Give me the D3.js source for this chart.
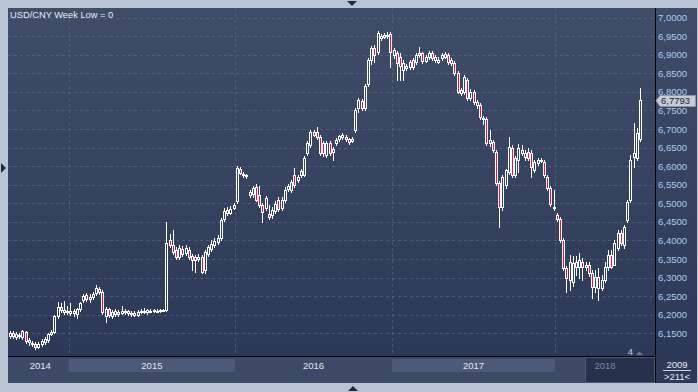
<!DOCTYPE html>
<html>
<head>
<meta charset="utf-8">
<script src="https://cdn.jsdelivr.net/npm/d3@7"></script>
<style>
  html, body { margin: 0; padding: 0; background: #b9c5d5; }
  svg { display: block; font-family: "Liberation Sans", Arial, sans-serif; }
</style>
</head>
<body>
<svg id="chart" width="698" height="392"></svg>
<script>
// weekly USD/CNY candles
const years = ["2014", "2015", "2016", "2017", "2018"]
const yearStart = [0, 19, 71, 120, 171]   // candle index where each year begins
const yTicks = [6.15, 6.2, 6.25, 6.3, 6.35, 6.4, 6.45, 6.5, 6.55, 6.6, 6.65, 6.7, 6.75, 6.8, 6.85, 6.9, 6.95, 7.0]
const lastPrice = 6.7793

const opens = [
  6.143, 6.151, 6.140, 6.145, 6.140, 6.153, 6.127, 6.124, 6.121, 6.113,
  6.121, 6.127, 6.132, 6.148, 6.153, 6.197, 6.221, 6.207, 6.207, 6.210,
  6.205, 6.202, 6.215, 6.240, 6.253, 6.242, 6.248, 6.258, 6.269, 6.261,
  6.197, 6.215, 6.197, 6.210, 6.202, 6.205, 6.207, 6.210, 6.202, 6.205,
  6.199, 6.207, 6.209, 6.207, 6.210, 6.210, 6.210, 6.211, 6.212, 6.213,
  6.401, 6.388, 6.374, 6.355, 6.377, 6.366, 6.374, 6.358, 6.347, 6.350,
  6.355, 6.320, 6.363, 6.377, 6.388, 6.396, 6.406, 6.458, 6.482, 6.474,
  6.487, 6.506, 6.592, 6.579, 6.576, 6.522, 6.525, 6.544, 6.522, 6.495,
  6.487, 6.471, 6.468, 6.479, 6.509, 6.487, 6.509, 6.538, 6.536, 6.576,
  6.563, 6.576, 6.576, 6.635, 6.657, 6.684, 6.692, 6.678, 6.662, 6.630,
  6.662, 6.638, 6.662, 6.673, 6.678, 6.678, 6.673, 6.668, 6.697, 6.756,
  6.775, 6.756, 6.821, 6.886, 6.918, 6.907, 6.945, 6.948, 6.950, 6.956,
  6.899, 6.904, 6.894, 6.859, 6.864, 6.867, 6.886, 6.880, 6.899, 6.904,
  6.883, 6.894, 6.904, 6.886, 6.880, 6.891, 6.894, 6.899, 6.886, 6.878,
  6.851, 6.797, 6.800, 6.832, 6.783, 6.800, 6.765, 6.765, 6.727, 6.727,
  6.662, 6.665, 6.638, 6.554, 6.490, 6.549, 6.584, 6.649, 6.576, 6.616,
  6.643, 6.625, 6.638, 6.635, 6.590, 6.608, 6.614, 6.611, 6.571, 6.541,
  6.487, 6.468, 6.458, 6.401, 6.326, 6.293, 6.288, 6.328, 6.328, 6.342,
  6.328, 6.334, 6.312, 6.275, 6.272, 6.272, 6.293, 6.328, 6.361, 6.334,
  6.380, 6.420, 6.388, 6.455, 6.509, 6.625, 6.622, 6.673
]
const highs = [
  6.156, 6.156, 6.153, 6.151, 6.159, 6.156, 6.137, 6.129, 6.127, 6.127,
  6.135, 6.140, 6.151, 6.159, 6.199, 6.234, 6.232, 6.237, 6.223, 6.232,
  6.215, 6.218, 6.234, 6.256, 6.258, 6.256, 6.261, 6.280, 6.275, 6.267,
  6.221, 6.218, 6.213, 6.215, 6.213, 6.223, 6.215, 6.213, 6.210, 6.210,
  6.213, 6.215, 6.218, 6.215, 6.215, 6.215, 6.215, 6.215, 6.215, 6.450,
  6.417, 6.428, 6.382, 6.388, 6.385, 6.388, 6.382, 6.363, 6.361, 6.363,
  6.361, 6.374, 6.388, 6.401, 6.406, 6.415, 6.460, 6.487, 6.490, 6.493,
  6.501, 6.600, 6.598, 6.584, 6.579, 6.536, 6.546, 6.552, 6.546, 6.501,
  6.520, 6.495, 6.490, 6.506, 6.517, 6.517, 6.544, 6.552, 6.563, 6.595,
  6.576, 6.592, 6.627, 6.668, 6.697, 6.697, 6.705, 6.684, 6.668, 6.668,
  6.668, 6.651, 6.676, 6.684, 6.689, 6.684, 6.676, 6.678, 6.756, 6.783,
  6.781, 6.821, 6.891, 6.923, 6.926, 6.964, 6.956, 6.958, 6.961, 6.961,
  6.918, 6.910, 6.904, 6.886, 6.875, 6.886, 6.891, 6.904, 6.921, 6.907,
  6.899, 6.910, 6.910, 6.899, 6.894, 6.904, 6.907, 6.904, 6.891, 6.883,
  6.856, 6.810, 6.845, 6.837, 6.807, 6.805, 6.778, 6.770, 6.735, 6.732,
  6.697, 6.670, 6.643, 6.560, 6.576, 6.592, 6.678, 6.657, 6.627, 6.660,
  6.657, 6.643, 6.649, 6.643, 6.616, 6.622, 6.622, 6.616, 6.576, 6.546,
  6.536, 6.474, 6.463, 6.406, 6.331, 6.361, 6.358, 6.358, 6.366, 6.353,
  6.342, 6.342, 6.320, 6.320, 6.326, 6.307, 6.342, 6.374, 6.374, 6.401,
  6.428, 6.428, 6.442, 6.509, 6.630, 6.716, 6.703, 6.810
]
const lows = [
  6.137, 6.137, 6.135, 6.137, 6.135, 6.124, 6.118, 6.116, 6.108, 6.110,
  6.116, 6.121, 6.127, 6.145, 6.151, 6.191, 6.207, 6.202, 6.202, 6.199,
  6.197, 6.191, 6.210, 6.234, 6.237, 6.234, 6.242, 6.253, 6.256, 6.202,
  6.180, 6.194, 6.191, 6.197, 6.197, 6.202, 6.202, 6.199, 6.197, 6.197,
  6.197, 6.205, 6.205, 6.202, 6.207, 6.207, 6.207, 6.207, 6.210, 6.210,
  6.382, 6.363, 6.350, 6.350, 6.358, 6.361, 6.350, 6.320, 6.315, 6.345,
  6.312, 6.312, 6.358, 6.371, 6.382, 6.390, 6.401, 6.452, 6.468, 6.471,
  6.485, 6.501, 6.579, 6.571, 6.568, 6.517, 6.517, 6.506, 6.490, 6.450,
  6.482, 6.458, 6.460, 6.474, 6.479, 6.482, 6.503, 6.533, 6.530, 6.544,
  6.557, 6.571, 6.573, 6.630, 6.651, 6.681, 6.673, 6.630, 6.627, 6.625,
  6.630, 6.616, 6.657, 6.668, 6.673, 6.668, 6.660, 6.665, 6.692, 6.746,
  6.751, 6.751, 6.816, 6.875, 6.880, 6.902, 6.939, 6.945, 6.945, 6.867,
  6.891, 6.832, 6.832, 6.832, 6.859, 6.861, 6.861, 6.875, 6.894, 6.878,
  6.880, 6.888, 6.886, 6.880, 6.878, 6.886, 6.891, 6.875, 6.872, 6.845,
  6.797, 6.791, 6.794, 6.778, 6.778, 6.767, 6.756, 6.727, 6.713, 6.657,
  6.654, 6.638, 6.549, 6.436, 6.482, 6.541, 6.579, 6.571, 6.571, 6.584,
  6.630, 6.616, 6.616, 6.571, 6.584, 6.603, 6.611, 6.571, 6.536, 6.493,
  6.482, 6.452, 6.396, 6.320, 6.261, 6.267, 6.277, 6.307, 6.299, 6.293,
  6.320, 6.304, 6.245, 6.261, 6.240, 6.267, 6.288, 6.320, 6.326, 6.353,
  6.374, 6.388, 6.380, 6.450, 6.503, 6.598, 6.616, 6.668
]
const closes = [
  6.151, 6.143, 6.148, 6.143, 6.156, 6.129, 6.132, 6.121, 6.113, 6.121,
  6.129, 6.135, 6.148, 6.153, 6.197, 6.221, 6.213, 6.213, 6.210, 6.205,
  6.210, 6.215, 6.232, 6.250, 6.242, 6.248, 6.256, 6.272, 6.261, 6.207,
  6.215, 6.199, 6.207, 6.202, 6.207, 6.210, 6.210, 6.205, 6.205, 6.199,
  6.207, 6.210, 6.210, 6.213, 6.211, 6.213, 6.211, 6.213, 6.213, 6.393,
  6.388, 6.369, 6.355, 6.380, 6.363, 6.380, 6.355, 6.347, 6.355, 6.355,
  6.315, 6.369, 6.382, 6.390, 6.398, 6.406, 6.455, 6.479, 6.474, 6.485,
  6.495, 6.595, 6.581, 6.576, 6.573, 6.530, 6.541, 6.509, 6.495, 6.476,
  6.514, 6.463, 6.482, 6.498, 6.485, 6.509, 6.536, 6.546, 6.557, 6.549,
  6.571, 6.587, 6.622, 6.662, 6.692, 6.692, 6.678, 6.635, 6.635, 6.662,
  6.635, 6.646, 6.670, 6.681, 6.684, 6.673, 6.665, 6.673, 6.751, 6.778,
  6.756, 6.816, 6.886, 6.918, 6.899, 6.958, 6.950, 6.953, 6.953, 6.907,
  6.913, 6.878, 6.869, 6.878, 6.869, 6.880, 6.867, 6.899, 6.904, 6.883,
  6.894, 6.904, 6.891, 6.894, 6.886, 6.899, 6.902, 6.880, 6.878, 6.851,
  6.800, 6.805, 6.840, 6.783, 6.800, 6.773, 6.773, 6.732, 6.730, 6.662,
  6.670, 6.643, 6.554, 6.490, 6.571, 6.589, 6.651, 6.576, 6.622, 6.649,
  6.635, 6.635, 6.622, 6.598, 6.611, 6.616, 6.616, 6.576, 6.541, 6.498,
  6.490, 6.458, 6.401, 6.326, 6.299, 6.342, 6.339, 6.342, 6.347, 6.328,
  6.334, 6.312, 6.275, 6.302, 6.302, 6.293, 6.328, 6.361, 6.328, 6.393,
  6.420, 6.393, 6.436, 6.503, 6.616, 6.635, 6.689, 6.7793
]

const N = closes.length
const plot = { left: 8, right: 655, top: 8, bottom: 356 }
const fmt = v => d3.format(".4f")(v).replace(".", ",")

const svg = d3.select("#chart")
const defs = svg.append("defs")

const grad = defs.append("linearGradient")
    .attr("id", "bg")
    .attr("x1", 0).attr("y1", 0).attr("x2", 0).attr("y2", 1)
grad.append("stop").attr("offset", "0%").attr("stop-color", "#3f4d69")
grad.append("stop").attr("offset", "100%").attr("stop-color", "#2b3857")

defs.append("clipPath").attr("id", "plotClip")
    .append("rect")
    .attr("x", plot.left).attr("y", plot.top)
    .attr("width", plot.right - plot.left).attr("height", plot.bottom - plot.top)

const x = d3.scaleBand()
    .domain(d3.range(N))
    .range([7.9, 7.9 + 3.2 * N])

const y = d3.scaleLinear()
    .domain([6.15, 7.0])
    .range([333.4, 17.5])

// panels
svg.append("rect")
    .attr("x", plot.left).attr("y", plot.top)
    .attr("width", 697 - plot.left).attr("height", plot.bottom - plot.top + 1)
    .attr("fill", "url(#bg)")

svg.append("rect")
    .attr("x", plot.left).attr("y", 357)
    .attr("width", plot.right - plot.left).attr("height", 26)
    .attr("fill", "#3c4a67")

svg.append("rect")
    .attr("x", plot.right).attr("y", 357)
    .attr("width", 697 - plot.right).attr("height", 26)
    .attr("fill", "#2d3a57")

// year strip
const yearEdges = yearStart.map((s, i) => i === 0 ? plot.left : x(s))
yearEdges.push(plot.right)

svg.append("g")
    .selectAll("rect")
    .data(years)
    .join("rect")
    .filter((d, i) => i === 1 || i === 3)
    .attr("x", d => yearEdges[years.indexOf(d)])
    .attr("y", 359)
    .attr("width", d => yearEdges[years.indexOf(d) + 1] - yearEdges[years.indexOf(d)])
    .attr("height", 13)
    .attr("fill", "#4a5a78")

// the darker "now" box under 2018
svg.append("rect")
    .attr("x", 585.5).attr("y", 357.5)
    .attr("width", 69).attr("height", 25)
    .attr("fill", "#26324c")
    .attr("stroke", "#4b5874")

svg.append("g")
    .selectAll("text")
    .data(years)
    .join("text")
    .attr("x", (d, i) => (yearEdges[i] + yearEdges[i + 1]) / 2 + (i === 0 ? 2 : 0))
    .attr("y", 369)
    .attr("text-anchor", "middle")
    .attr("font-size", "9.5px")
    .attr("fill", (d, i) => i === years.length - 1 ? "#7a859b" : "#e3e9f3")
    .text(d => d)

// grid
const grid = svg.append("g")
    .attr("stroke", "#5f6d88")
    .attr("stroke-opacity", 0.6)
    .attr("stroke-dasharray", "3,3")

grid.selectAll("line.h")
    .data(yTicks)
    .join("line")
    .attr("class", "h")
    .attr("x1", plot.left).attr("x2", plot.right)
    .attr("y1", d => Math.round(y(d)) + 0.5)
    .attr("y2", d => Math.round(y(d)) + 0.5)

grid.selectAll("line.v")
    .data(yearStart.slice(1))
    .join("line")
    .attr("class", "v")
    .attr("x1", d => Math.round(x(d)) + 0.5)
    .attr("x2", d => Math.round(x(d)) + 0.5)
    .attr("y1", plot.top).attr("y2", plot.bottom)

// candles
const bars = d3.range(N).map(i => {
    const o = opens[i], c = closes[i]
    const left = Math.round(x(i) + x.bandwidth() / 2) - 1
    const top = Math.round(y(Math.max(o, c)))
    let bot = Math.round(y(Math.min(o, c)))
    if (bot <= top) bot = top + 1
    return {
        left, top, bot,
        hi: Math.round(y(highs[i])),
        lo: Math.round(y(lows[i])),
        down: c < o
    }
})

const cg = svg.append("g").attr("clip-path", "url(#plotClip)")

cg.append("g")
    .attr("stroke", "#ffffff")
    .attr("stroke-width", 1)
    .selectAll("path")
    .data(bars)
    .join("path")
    .attr("d", b => {
        const cx = b.left + 1.5
        let p = ""
        if (b.hi < b.top) p += `M${cx},${b.hi}V${b.top}`
        if (b.lo > b.bot) p += `M${cx},${b.bot + 1}V${b.lo + 1}`
        return p || null
    })

cg.append("g")
    .selectAll("rect")
    .data(bars)
    .join("rect")
    .attr("x", b => b.left + 0.5)
    .attr("y", b => b.top + 0.5)
    .attr("width", 2)
    .attr("height", b => b.bot - b.top)
    .attr("fill", b => b.down ? "#e3173d" : "none")
    .attr("stroke", "#ffffff")
    .attr("stroke-width", 1)

// frame lines
svg.append("line")
    .attr("x1", plot.right + 0.5).attr("x2", plot.right + 0.5)
    .attr("y1", plot.top).attr("y2", 383)
    .attr("stroke", "#000")
svg.append("line")
    .attr("x1", plot.left).attr("x2", plot.right)
    .attr("y1", plot.bottom + 0.5).attr("y2", plot.bottom + 0.5)
    .attr("stroke", "#000")

// price axis
const axis = svg.append("g")
    .attr("transform", `translate(${plot.right + 3},0)`)
    .call(d3.axisRight(y).tickValues(yTicks).tickSize(0).tickPadding(0).tickFormat(fmt))
axis.select(".domain").remove()
axis.selectAll("text")
    .attr("font-family", "\"Liberation Sans\", Arial, sans-serif")
    .attr("font-size", "9.5px")
    .attr("fill", "#aecbef")

// last price marker
const py = Math.round(y(lastPrice)) + 0.5
svg.append("path")
    .attr("d", `M656,${py}L660,${py - 5}H695.5V${py + 6}H660Z`)
    .attr("fill", "#c7cbd3")
    .attr("stroke", "#8e96a4")
svg.append("text")
    .attr("x", 661).attr("y", py + 3.5)
    .attr("font-size", "9.5px")
    .attr("fill", "#1c2334")
    .text(fmt(lastPrice))

// title
svg.append("text")
    .attr("x", 10).attr("y", 18)
    .attr("font-size", "9.3px")
    .attr("fill", "#e6ecf5")
    .text("USD/CNY Week Low = 0")

// small bits in the lower right
svg.append("text")
    .attr("x", 630.5).attr("y", 355)
    .attr("text-anchor", "middle")
    .attr("font-size", "9.5px")
    .attr("fill", "#b8cdea")
    .text("4")
svg.append("path")
    .attr("d", "M636,355L639.5,351.5L643,355Z")
    .attr("fill", "#6e7890")

svg.append("text")
    .attr("x", 677).attr("y", 368)
    .attr("text-anchor", "middle")
    .attr("font-size", "9.5px")
    .attr("fill", "#e3e9f3")
    .text("2009")
svg.append("line")
    .attr("x1", 663).attr("x2", 691)
    .attr("y1", 370.5).attr("y2", 370.5)
    .attr("stroke", "#c9d3e2")
svg.append("text")
    .attr("x", 677).attr("y", 380)
    .attr("text-anchor", "middle")
    .attr("font-size", "9.5px")
    .attr("fill", "#e3e9f3")
    .text(">211<")

// scroll arrows on the outer frame
svg.append("path").attr("d", "M347,1H357L352,6Z").attr("fill", "#1f2a40")
svg.append("path").attr("d", "M348,391H358L353,386Z").attr("fill", "#1f2a40")
svg.append("path").attr("d", "M1,163V173L6,168Z").attr("fill", "#1f2a40")
</script>
</body>
</html>
